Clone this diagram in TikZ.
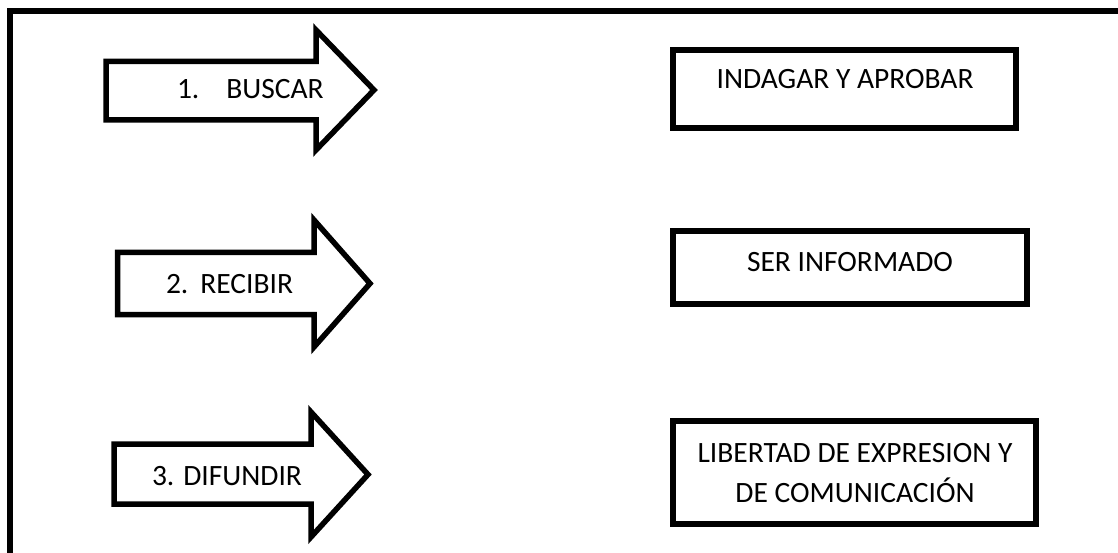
\documentclass[tikz,border=0pt]{standalone}
\usepackage{fontspec}
\setmainfont{Carlito}
\begin{document}
\begin{tikzpicture}[x=1pt,y=-1pt,
  frameline/.style={line width=6pt, line join=miter},
  arrowshape/.style={draw=black, fill=white, line width=5.5pt, line join=miter},
  boxshape/.style={draw=black, fill=white, line width=5.5pt, inner sep=0pt, outer sep=0pt},
  lbl/.style={font=\fontsize{29.5}{34}\selectfont, inner sep=0pt, outer sep=0pt},
]
\useasboundingbox (0,0) rectangle (1118,553);
\fill[white] (0,0) rectangle (1118,553);
% frame (top and left sides)
\coordinate (fTR) at (1118,11);
\coordinate (fTL) at (10,11);
\coordinate (fBL) at (10,553);
\draw[frameline] (fTR) -- (fTL) -- (fBL);

% arrow 1
\draw[arrowshape] (106,61.5) -- (316,61.5) -- (316,30) -- (374,90) -- (316,150) -- (316,120) -- (106,120) -- cycle;
\node[lbl, anchor=base west] (a1) at (177,99) {1.\hspace{27pt}BUSCAR};
% arrow 2
\draw[arrowshape] (117.5,252.5) -- (314,252.5) -- (314,220) -- (370,283.5) -- (314,347) -- (314,314.5) -- (117.5,314.5) -- cycle;
\node[lbl, anchor=base west] (a2) at (166,293) {2.\hspace{12pt}RECIBIR};
% arrow 3
\draw[arrowshape] (114,444) -- (311,444) -- (311,412) -- (368,474.5) -- (311,537) -- (311,504) -- (114,504) -- cycle;
\node[lbl, anchor=base west] (a3) at (152,485) {3. DIFUNDIR};

% boxes
\node[boxshape, minimum width=343pt, minimum height=78pt] (b1) at (844.5,89) {};
\node[lbl, anchor=base] (t1) at (845,89) {INDAGAR Y APROBAR};
\node[boxshape, minimum width=354pt, minimum height=73pt] (b2) at (850,267.5) {};
\node[lbl, anchor=base] (t2) at (850,272) {SER INFORMADO};
\node[boxshape, minimum width=363pt, minimum height=103pt] (b3) at (854.5,472.5) {};
\node[lbl, anchor=base] (t3a) at (855,462) {LIBERTAD DE EXPRESION Y};
\node[lbl, anchor=base] (t3b) at (855,502) {DE COMUNICACIÓN};
\end{tikzpicture}
\end{document}
